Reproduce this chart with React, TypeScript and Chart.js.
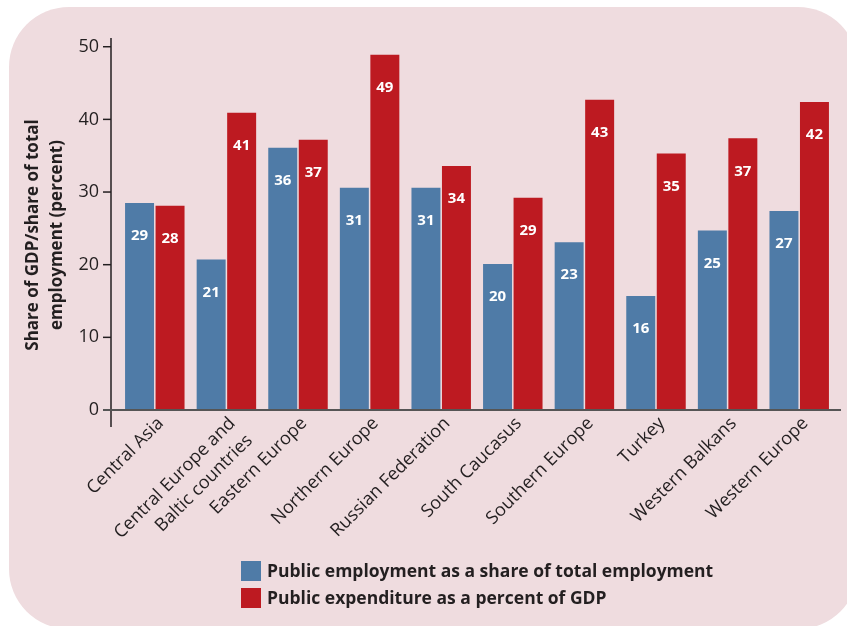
import React, { useEffect, useRef } from "react";
import { Chart, registerables } from "chart.js";

Chart.register(...registerables);

const categories: (string | string[])[] = [
  "Central Asia",
  ["Central Europe and", "Baltic countries"],
  "Eastern Europe",
  "Northern Europe",
  "Russian Federation",
  "South Caucasus",
  "Southern Europe",
  "Turkey",
  "Western Balkans",
  "Western Europe",
];

const employmentShare = [28.5, 20.7, 36.1, 30.6, 30.6, 20.1, 23.1, 15.7, 24.7, 27.4];
const expenditureShare = [28.1, 40.9, 37.2, 48.9, 33.6, 29.2, 42.7, 35.3, 37.4, 42.4];

const yTicks = [0, 10, 20, 30, 40, 50];
const yTitle = ["Share of GDP/share of total", "employment (percent)"];
const seriesLabels = [
  "Public employment as a share of total employment",
  "Public expenditure as a percent of GDP",
];

const BLUE = "#4f7ba7";
const RED = "#bd1a21";
const TEXT = "#231f20";
const FONT = "'Open Sans', Lato, sans-serif";

const axisPlugin = {
  id: "axisLines",
  afterDatasetsDraw(chart: any) {
    const { ctx, chartArea } = chart;
    const y = chart.scales.y;
    const ax = chartArea.left - 8;
    ctx.save();
    ctx.strokeStyle = TEXT;
    ctx.lineWidth = 1.5;
    ctx.beginPath();
    ctx.moveTo(ax, chartArea.top);
    ctx.lineTo(ax, chartArea.bottom + 17);
    ctx.stroke();
    yTicks.forEach((v) => {
      const py = y.getPixelForValue(v);
      ctx.beginPath();
      ctx.moveTo(ax - 8, py);
      ctx.lineTo(ax, py);
      ctx.stroke();
    });
    const y0 = y.getPixelForValue(0);
    ctx.strokeStyle = "#555";
    ctx.lineWidth = 2;
    ctx.beginPath();
    ctx.moveTo(ax - 8, y0);
    ctx.lineTo(chartArea.right + 6, y0);
    ctx.stroke();
    ctx.restore();
  },
};

const titlePlugin = {
  id: "yTitle",
  afterDraw(chart: any) {
    const { ctx } = chart;
    ctx.save();
    ctx.fillStyle = TEXT;
    ctx.font = `bold 17px ${FONT}`;
    ctx.textAlign = "center";
    ctx.textBaseline = "middle";
    yTitle.forEach((line, i) => {
      ctx.save();
      ctx.translate(33 + i * 24, 235);
      ctx.rotate(-Math.PI / 2);
      ctx.fillText(line, 0, 0);
      ctx.restore();
    });
    ctx.restore();
  },
};

const valueLabelPlugin = {
  id: "valueLabels",
  afterDatasetsDraw(chart: any) {
    const { ctx } = chart;
    ctx.save();
    ctx.fillStyle = "#ffffff";
    ctx.font = `bold 15px ${FONT}`;
    ctx.textAlign = "center";
    ctx.textBaseline = "middle";
    chart.data.datasets.forEach((ds: any, di: number) => {
      const meta = chart.getDatasetMeta(di);
      meta.data.forEach((el: any, i: number) => {
        ctx.fillText(String(Math.round(ds.data[i])), el.x, el.y + 33);
      });
    });
    ctx.restore();
  },
};

const legendPlugin = {
  id: "customLegend",
  afterDraw(chart: any) {
    const { ctx } = chart;
    ctx.save();
    ctx.font = `bold 17.5px ${FONT}`;
    ctx.textBaseline = "middle";
    ctx.textAlign = "left";
    chart.data.datasets.forEach((ds: any, i: number) => {
      const top = 561 + i * 27;
      ctx.fillStyle = ds.backgroundColor;
      ctx.fillRect(241, top, 20, 20);
      ctx.fillStyle = TEXT;
      ctx.fillText(ds.label, 267, top + 11);
    });
    ctx.restore();
  },
};

export default function App() {
  const ref = useRef<HTMLCanvasElement | null>(null);

  useEffect(() => {
    if (!ref.current) return;
    const chart = new Chart(ref.current, {
      type: "bar",
      data: {
        labels: categories,
        datasets: [
          {
            label: seriesLabels[0],
            data: employmentShare,
            backgroundColor: BLUE,
            categoryPercentage: 0.852,
            barPercentage: 0.95,
          },
          {
            label: seriesLabels[1],
            data: expenditureShare,
            backgroundColor: RED,
            categoryPercentage: 0.852,
            barPercentage: 0.95,
          },
        ],
      },
      options: {
        responsive: false,
        animation: false,
        devicePixelRatio: 1,
        layout: { padding: { top: 38, left: 0, right: 12, bottom: 0 } },
        plugins: {
          legend: { display: false },
          tooltip: { enabled: false },
        },
        scales: {
          x: {
            grid: { display: false, drawTicks: false },
            border: { display: false },
            ticks: {
              maxRotation: 45,
              minRotation: 45,
              autoSkip: false,
              color: TEXT,
              font: { family: FONT, size: 18, lineHeight: 1.35 },
              padding: 2,
              labelOffset: 6,
            },
            afterFit(scale: any) {
              scale.height = 216;
            },
          },
          y: {
            min: 0,
            max: 51.2,
            grid: { display: false, drawTicks: false },
            border: { display: false },
            afterBuildTicks(scale: any) {
              scale.ticks = yTicks.map((v) => ({ value: v }));
            },
            ticks: {
              color: TEXT,
              font: { family: FONT, size: 18 },
              padding: 20,
            },
            afterFit(scale: any) {
              scale.width = 119;
            },
          },
        },
      },
      plugins: [axisPlugin, valueLabelPlugin, legendPlugin, titlePlugin],
    });
    return () => chart.destroy();
  }, []);

  return (
    <div
      style={{
        position: "fixed",
        left: 0,
        top: 0,
        width: 847,
        height: 626,
        overflow: "hidden",
        background: "#ffffff",
      }}
    >
      <div
        style={{
          position: "absolute",
          left: 9,
          top: 7,
          width: 849,
          height: 622,
          borderRadius: 60,
          background: "#efdcdf",
        }}
      />
      <canvas
        ref={ref}
        width={847}
        height={626}
        style={{ position: "absolute", left: 0, top: 0, width: 847, height: 626 }}
      />
    </div>
  );
}
